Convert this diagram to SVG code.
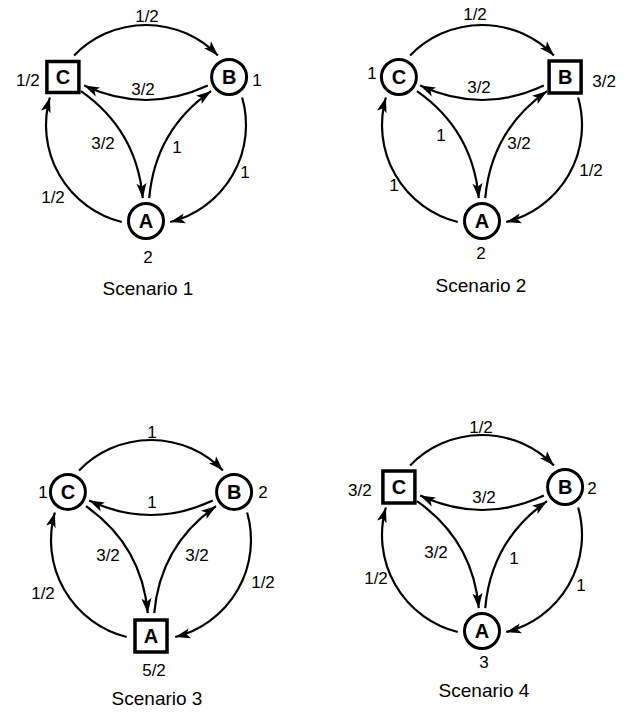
<svg xmlns="http://www.w3.org/2000/svg" width="628" height="712" viewBox="0 0 628 712">
  <defs>
    <!-- filled, slightly notched arrowhead -->
    <marker id="arrow" markerUnits="userSpaceOnUse" markerWidth="16" markerHeight="11" refX="15" refY="5.5" orient="auto">
      <path d="M0,0.5 L15,5.5 L0,10.5 L3.5,5.5 Z" fill="#000"/>
    </marker>
  </defs>
  <style>
    .edge{fill:none;stroke:#000;stroke-width:2.2;marker-end:url(#arrow)}
    .circ{fill:#fff;stroke:#000;stroke-width:3}
    .box{fill:#fff;stroke:#000;stroke-width:3.5}
    .nl{font-family:"Liberation Sans",Arial,Helvetica,sans-serif;font-weight:bold;font-size:20px;text-anchor:middle}
    .lbl{font-family:"Liberation Sans",Arial,Helvetica,sans-serif;font-size:17px;text-anchor:middle}
    .cap{font-family:"Liberation Sans",Arial,Helvetica,sans-serif;font-size:19px;text-anchor:middle}
  </style>
  <rect width="628" height="712" fill="#fff"/>

  <!-- Each scenario: nodes on a circle (C upper left, B upper right, A bottom).
       Outer arcs run C->B->A->C, inner arcs run B->C->A->B. -->

  <!-- Scenario 1 -->
  <g id="scenario1" transform="translate(146,125)">
    <g id="s1-connectors">
      <path class="edge" d="M -71.9 -69.5 A 100 100 0 0 1 71.9 -69.5"/>
      <path class="edge" transform="rotate(120)" d="M -71.9 -69.5 A 100 100 0 0 1 71.9 -69.5"/>
      <path class="edge" transform="rotate(240)" d="M -71.9 -69.5 A 100 100 0 0 1 71.9 -69.5"/>
      <path class="edge" d="M 61.8 -39.4 Q 0 -10.6 -61.8 -39.4"/>
      <path class="edge" transform="rotate(-120)" d="M 61.8 -39.4 Q 0 -10.6 -61.8 -39.4"/>
      <path class="edge" transform="rotate(120)" d="M 61.8 -39.4 Q 0 -10.6 -61.8 -39.4"/>
      <text class="lbl" x="1" y="-103">1/2</text>
      <text class="lbl" x="-3" y="-30">3/2</text>
      <text class="lbl" x="-43" y="24">3/2</text>
      <text class="lbl" x="31" y="28">1</text>
      <text class="lbl" x="99" y="53">1</text>
      <text class="lbl" x="-93" y="78">1/2</text>
    </g>
    <g id="s1-C" transform="translate(-83.1,-48)">
      <rect class="box" x="-16" y="-15.5" width="32" height="31"/>
      <text class="nl" y="7">C</text>
      <text class="lbl" x="-35" y="9">1/2</text>
    </g>
    <g id="s1-B" transform="translate(83.1,-48)">
      <circle class="circ" r="17.5"/>
      <text class="nl" y="7">B</text>
      <text class="lbl" x="28" y="9">1</text>
    </g>
    <g id="s1-A" transform="translate(0,96)">
      <circle class="circ" r="17.5"/>
      <text class="nl" y="7">A</text>
      <text class="lbl" x="2" y="42">2</text>
    </g>
    <text class="cap" x="2" y="170">Scenario 1</text>
  </g>

  <!-- Scenario 2 -->
  <g id="scenario2" transform="translate(482,125)">
    <g id="s2-connectors">
      <path class="edge" d="M -71.9 -69.5 A 100 100 0 0 1 71.9 -69.5"/>
      <path class="edge" transform="rotate(120)" d="M -71.9 -69.5 A 100 100 0 0 1 71.9 -69.5"/>
      <path class="edge" transform="rotate(240)" d="M -71.9 -69.5 A 100 100 0 0 1 71.9 -69.5"/>
      <path class="edge" d="M 61.8 -39.4 Q 0 -10.6 -61.8 -39.4"/>
      <path class="edge" transform="rotate(-120)" d="M 61.8 -39.4 Q 0 -10.6 -61.8 -39.4"/>
      <path class="edge" transform="rotate(120)" d="M 61.8 -39.4 Q 0 -10.6 -61.8 -39.4"/>
      <text class="lbl" x="-7" y="-105">1/2</text>
      <text class="lbl" x="-3" y="-32">3/2</text>
      <text class="lbl" x="-41" y="16">1</text>
      <text class="lbl" x="37" y="24">3/2</text>
      <text class="lbl" x="109" y="51">1/2</text>
      <text class="lbl" x="-88" y="66">1</text>
    </g>
    <g id="s2-C" transform="translate(-83.1,-48)">
      <circle class="circ" r="17.5"/>
      <text class="nl" y="7">C</text>
      <text class="lbl" x="-27" y="2">1</text>
    </g>
    <g id="s2-B" transform="translate(83.1,-48)">
      <rect class="box" x="-16" y="-16" width="32" height="32"/>
      <text class="nl" y="7">B</text>
      <text class="lbl" x="39" y="10">3/2</text>
    </g>
    <g id="s2-A" transform="translate(0,96)">
      <circle class="circ" r="17.5"/>
      <text class="nl" y="7">A</text>
      <text class="lbl" x="-1" y="38">2</text>
    </g>
    <text class="cap" x="-1" y="167">Scenario 2</text>
  </g>

  <!-- Scenario 3 -->
  <g id="scenario3" transform="translate(151,540)">
    <g id="s3-connectors">
      <path class="edge" d="M -71.9 -69.5 A 100 100 0 0 1 71.9 -69.5"/>
      <path class="edge" transform="rotate(120)" d="M -71.9 -69.5 A 100 100 0 0 1 71.9 -69.5"/>
      <path class="edge" transform="rotate(240)" d="M -71.9 -69.5 A 100 100 0 0 1 71.9 -69.5"/>
      <path class="edge" d="M 61.8 -39.4 Q 0 -10.6 -61.8 -39.4"/>
      <path class="edge" transform="rotate(-120)" d="M 61.8 -39.4 Q 0 -10.6 -61.8 -39.4"/>
      <path class="edge" transform="rotate(120)" d="M 61.8 -39.4 Q 0 -10.6 -61.8 -39.4"/>
      <text class="lbl" x="1" y="-102">1</text>
      <text class="lbl" x="1" y="-32">1</text>
      <text class="lbl" x="-43" y="21">3/2</text>
      <text class="lbl" x="46" y="21">3/2</text>
      <text class="lbl" x="112" y="48">1/2</text>
      <text class="lbl" x="-108" y="59">1/2</text>
    </g>
    <g id="s3-C" transform="translate(-83.1,-48)">
      <circle class="circ" r="17.5"/>
      <text class="nl" y="7">C</text>
      <text class="lbl" x="-25" y="6">1</text>
    </g>
    <g id="s3-B" transform="translate(83.1,-48)">
      <circle class="circ" r="17.5"/>
      <text class="nl" y="7">B</text>
      <text class="lbl" x="29" y="6">2</text>
    </g>
    <g id="s3-A" transform="translate(0,96)">
      <rect class="box" x="-16" y="-16" width="32" height="32"/>
      <text class="nl" y="7">A</text>
      <text class="lbl" x="3" y="40">5/2</text>
    </g>
    <text class="cap" x="6" y="165">Scenario 3</text>
  </g>

  <!-- Scenario 4 -->
  <g id="scenario4" transform="translate(482,535)">
    <g id="s4-connectors">
      <path class="edge" d="M -71.9 -69.5 A 100 100 0 0 1 71.9 -69.5"/>
      <path class="edge" transform="rotate(120)" d="M -71.9 -69.5 A 100 100 0 0 1 71.9 -69.5"/>
      <path class="edge" transform="rotate(240)" d="M -71.9 -69.5 A 100 100 0 0 1 71.9 -69.5"/>
      <path class="edge" d="M 61.8 -39.4 Q 0 -10.6 -61.8 -39.4"/>
      <path class="edge" transform="rotate(-120)" d="M 61.8 -39.4 Q 0 -10.6 -61.8 -39.4"/>
      <path class="edge" transform="rotate(120)" d="M 61.8 -39.4 Q 0 -10.6 -61.8 -39.4"/>
      <text class="lbl" x="-1" y="-102">1/2</text>
      <text class="lbl" x="2" y="-32">3/2</text>
      <text class="lbl" x="-46" y="23">3/2</text>
      <text class="lbl" x="32" y="29">1</text>
      <text class="lbl" x="99" y="56">1</text>
      <text class="lbl" x="-106" y="49">1/2</text>
    </g>
    <g id="s4-C" transform="translate(-83.1,-48)">
      <rect class="box" x="-16" y="-16" width="32" height="32"/>
      <text class="nl" y="7">C</text>
      <text class="lbl" x="-39" y="9">3/2</text>
    </g>
    <g id="s4-B" transform="translate(83.1,-48)">
      <circle class="circ" r="17.5"/>
      <text class="nl" y="7">B</text>
      <text class="lbl" x="27" y="7">2</text>
    </g>
    <g id="s4-A" transform="translate(0,96)">
      <circle class="circ" r="17.5"/>
      <text class="nl" y="7">A</text>
      <text class="lbl" x="2" y="37">3</text>
    </g>
    <text class="cap" x="2" y="162">Scenario 4</text>
  </g>
</svg>
